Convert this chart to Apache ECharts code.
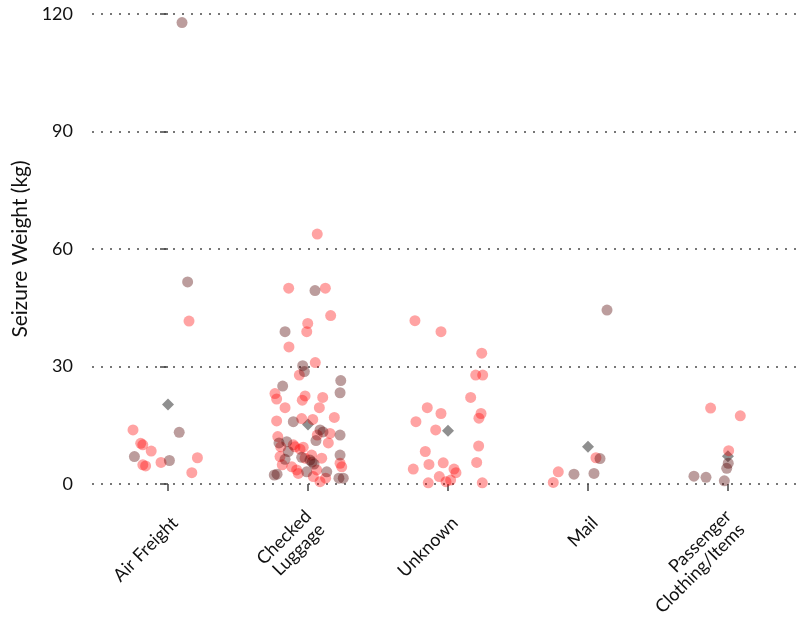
<!DOCTYPE html>
<html>
<head>
<meta charset="utf-8">
<script src="https://cdn.jsdelivr.net/npm/echarts@6/dist/echarts.min.js"></script>
<style>
    html, body { margin: 0; padding: 0; background: #fff; }
    #chart { width: 808px; height: 620px; }
</style>
</head>
<body>
<div id="chart"></div>
<script>
// categories on the x axis (index 0..4)
const categories = ['Air Freight', 'Checked\nLuggage', 'Unknown', 'Mail', 'Passenger\nClothing/Items'];
const yTicks = [0, 30, 60, 90, 120];

// jittered points: [x (category index + jitter), weight kg]
const redPoints = [
    // Air Freight
    [-0.25, 13.8], [-0.195, 10.4], [-0.18, 10.0], [-0.12, 8.4], [-0.18, 4.9], [-0.16, 4.6],
    [-0.05, 5.5], [0.21, 6.7], [0.17, 2.9], [0.15, 41.6],
    // Checked Luggage
    [1.066, 63.8], [0.862, 50.0], [1.124, 50.0], [1.162, 43.0], [0.998, 41.0], [0.991, 38.9],
    [0.864, 35.0], [1.052, 31.0], [0.938, 27.8], [0.764, 23.1], [0.776, 21.7], [0.979, 22.5],
    [0.959, 21.4], [1.105, 22.1], [0.836, 19.5], [1.081, 19.5], [1.188, 17.0], [0.776, 16.1],
    [0.955, 16.7], [1.034, 16.5], [1.066, 12.5], [1.157, 12.9], [1.145, 10.5], [0.784, 12.1],
    [0.805, 9.5], [0.907, 9.5], [0.943, 8.9], [0.966, 9.4], [0.816, 4.9], [0.884, 4.4],
    [0.979, 6.6], [1.098, 6.6], [0.931, 2.7], [1.038, 1.9], [1.086, 0.6], [1.126, 1.5],
    [1.229, 5.3], [1.241, 4.4], [0.895, 10.0], [1.026, 7.4], [0.8, 7.0], [1.062, 3.6], [0.919, 3.6],
    // Unknown
    [1.764, 41.7], [1.95, 38.9], [2.241, 33.4], [2.198, 27.8], [2.248, 27.8], [2.162, 22.1],
    [1.852, 19.5], [1.95, 18.0], [1.771, 15.9], [2.236, 18.0], [2.221, 16.8], [1.912, 13.8],
    [2.219, 9.7], [1.838, 8.3], [2.205, 5.5], [1.864, 5.0], [1.966, 5.4], [1.752, 3.8],
    [2.043, 3.8], [2.057, 2.9], [1.938, 1.9], [1.986, 0.6], [2.019, 1.0], [1.859, 0.3], [2.245, 0.3],
    // Mail
    [3.057, 6.7], [2.788, 3.1], [2.752, 0.4],
    // Passenger Clothing/Items
    [3.876, 19.4], [4.088, 17.4], [4.005, 8.5]
];

const darkPoints = [
    // Air Freight
    [0.10, 117.8], [0.14, 51.6], [0.08, 13.2], [-0.24, 7.0], [0.01, 6.0],
    // Checked Luggage
    [1.05, 49.4], [0.836, 38.9], [0.962, 30.2], [0.974, 28.7], [0.819, 25.0], [1.234, 26.4],
    [1.229, 23.3], [0.895, 15.9], [1.086, 13.8], [1.107, 13.3], [1.229, 12.5], [1.057, 11.1],
    [0.793, 10.5], [0.848, 10.8], [0.859, 8.3], [0.836, 6.3], [0.955, 6.8], [1.014, 6.1],
    [1.043, 5.1], [0.991, 3.1], [0.759, 2.3], [0.779, 2.5], [1.134, 3.1], [1.229, 7.4],
    [1.221, 1.5], [1.252, 1.5], [1.029, 5.6],
    // Mail
    [3.136, 44.4], [3.086, 6.5], [2.9, 2.5], [3.043, 2.7],
    // Passenger Clothing/Items
    [4.002, 5.3], [3.991, 4.0], [3.757, 2.0], [3.843, 1.7], [3.974, 0.8]
];

// category means (diamonds)
const meanValues = [20.3, 15.2, 13.6, 9.5, 7.1];

const FONT = 'Lato, "Open Sans", sans-serif';

document.addEventListener('DOMContentLoaded', () => {
    const chart = echarts.init(document.getElementById('chart'), null, { renderer: 'canvas' });
    const catIdx = categories.map((c, i) => i);
    // labels sit a little right of the tick, like hjust = 1 on a rotated label
    const labelPos = catIdx.map((i) => i + 0.05);

    chart.setOption({
        animation: false,
        backgroundColor: '#fff',
        grid: { left: 92, right: 5, top: 14, bottom: 136 },
        xAxis: {
            type: 'value',
            min: -0.543,
            max: 4.536,
            offset: 28,
            axisLine: { show: false },
            splitLine: { show: false },
            axisTick: {
                show: true,
                customValues: catIdx,
                length: 7,
                lineStyle: { color: '#444', width: 1.5 }
            },
            axisLabel: {
                customValues: labelPos,
                formatter: (v) => categories[Math.round(v)],
                rotate: 45,
                margin: 8,
                color: '#111',
                fontSize: 18,
                fontFamily: FONT,
                lineHeight: 19
            }
        },
        yAxis: {
            type: 'value',
            min: yTicks[0],
            max: yTicks[yTicks.length - 1],
            interval: 30,
            offset: 6,
            name: 'Seizure Weight (kg)',
            nameLocation: 'middle',
            nameGap: 49,
            nameTextStyle: { color: '#111', fontSize: 21, fontFamily: FONT },
            axisLine: { show: false },
            axisTick: { show: true, length: 8, lineStyle: { color: '#444', width: 1.5 } },
            axisLabel: { color: '#111', fontSize: 18, fontFamily: FONT, margin: 13 },
            splitLine: {
                show: true,
                lineStyle: { color: '#777', width: 2, type: [2, 7] }
            }
        },
        series: [
            {
                name: 'mean',
                type: 'scatter',
                symbol: 'diamond',
                symbolSize: 12,
                data: meanValues.map((v, i) => [i, v]),
                itemStyle: { color: 'rgba(60,60,60,0.72)' },
                z: 1
            },
            {
                name: 'red',
                type: 'scatter',
                symbolSize: 11,
                data: redPoints,
                itemStyle: { color: 'rgba(255,0,0,0.45)' },
                z: 2
            },
            {
                name: 'dark',
                type: 'scatter',
                symbolSize: 11,
                data: darkPoints,
                itemStyle: { color: 'rgba(80,0,0,0.48)' },
                z: 3
            }
        ]
    });
});
</script>
</body>
</html>
